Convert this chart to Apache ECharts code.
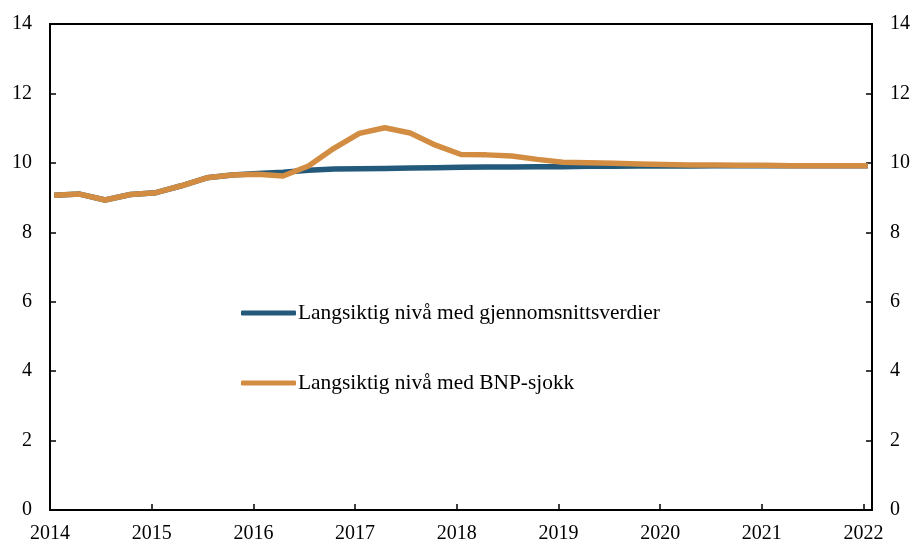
<!DOCTYPE html>
<html>
<head>
<meta charset="utf-8">
<script src="https://cdn.jsdelivr.net/npm/echarts@6/dist/echarts.min.js"></script>
<style>html,body{margin:0;padding:0;background:#fff;}#c{width:913px;height:545px;}</style>
</head>
<body>
<div id="c"></div>
<script>
// Quarterly observations 2014K1 - 2022K1
var quarters = ["2014K1","2014K2","2014K3","2014K4","2015K1","2015K2","2015K3","2015K4",
  "2016K1","2016K2","2016K3","2016K4","2017K1","2017K2","2017K3","2017K4",
  "2018K1","2018K2","2018K3","2018K4","2019K1","2019K2","2019K3","2019K4",
  "2020K1","2020K2","2020K3","2020K4","2021K1","2021K2","2021K3","2021K4","2022K1"];
var gjennomsnitt = [9.07,9.10,8.93,9.09,9.14,9.34,9.57,9.65,
  9.69,9.73,9.79,9.82,9.83,9.84,9.85,9.86,
  9.87,9.88,9.88,9.89,9.89,9.90,9.90,9.91,
  9.91,9.91,9.92,9.92,9.92,9.92,9.92,9.92,9.92];
var bnpSjokk = [9.07,9.10,8.93,9.09,9.14,9.34,9.57,9.65,
  9.67,9.62,9.91,10.42,10.85,11.01,10.86,10.51,
  10.24,10.23,10.20,10.10,10.02,10.00,9.99,9.97,
  9.95,9.94,9.94,9.93,9.93,9.92,9.92,9.92,9.92];
var seriesNames = ["Langsiktig nivå med gjennomsnittsverdier","Langsiktig nivå med BNP-sjokk"];
var yTicks = [0,2,4,6,8,10,12,14];
var xStart = "2014-01", xEnd = "2022-02";

// convert quarter label to decimal year (middle of the quarter's first month)
function qToYear(q){
  var y = parseInt(q.slice(0,4),10), k = parseInt(q.slice(5),10);
  var m = (k-1)*3 + 1;
  return y + (m-0.5)/12;
}
function ymToYear(s){ var p=s.split('-'); return parseInt(p[0],10) + (parseInt(p[1],10)-1)/12; }

var font = "'Liberation Serif', 'DejaVu Serif', serif";
var chart = echarts.init(document.getElementById('c'), null, {renderer:'canvas'});
function pairs(vals){ return quarters.map(function(q,i){ return [qToYear(q), vals[i]]; }); }

var yAxisCommon = {
  type:'value', min: yTicks[0], max: yTicks[yTicks.length-1], interval: 2,
  axisLine:{show:true, lineStyle:{color:'#000', width:2}},
  axisTick:{show:true, inside:true, length:6, lineStyle:{color:'#000', width:1.5}},
  axisLabel:{color:'#000', fontFamily:font, fontSize:20, margin:18},
  splitLine:{show:false}
};

chart.setOption({
  animation:false,
  backgroundColor:'#fff',
  grid:{left:50, right:41, top:24, bottom:35, show:true, borderColor:'#000', borderWidth:2, containLabel:false},
  legend:{
    orient:'vertical', left:241, top:302.5, padding:0,
    itemWidth:55, itemHeight:5, itemGap:49, icon:'roundRect',
    textStyle:{color:'#000', fontFamily:font, fontSize:21.4, lineHeight:21, padding:[0,0,0,-3]},
    data: seriesNames
  },
  xAxis:{
    type:'value', min: ymToYear(xStart), max: ymToYear(xEnd), interval:1,
    axisLine:{show:true, lineStyle:{color:'#000', width:2}},
    axisTick:{show:true, inside:true, length:6, lineStyle:{color:'#000', width:1.5}},
    axisLabel:{color:'#000', fontFamily:font, fontSize:20, margin:14,
      formatter:function(v){ return Math.abs(v-Math.round(v))<1e-6 ? String(Math.round(v)) : ''; }},
    splitLine:{show:false}
  },
  yAxis:[
    Object.assign({}, yAxisCommon, {position:'left'}),
    Object.assign({}, yAxisCommon, {position:'right'})
  ],
  series:[
    {name:seriesNames[0], type:'line', data:pairs(gjennomsnitt), showSymbol:false, symbol:'none',
      lineStyle:{color:'#235a7b', width:5.5, join:'round'}, itemStyle:{color:'#235a7b'}},
    {name:seriesNames[1], type:'line', data:pairs(bnpSjokk), showSymbol:false, symbol:'none',
      lineStyle:{color:'#d38d42', width:5.5, join:'round'}, itemStyle:{color:'#d38d42'}}
  ]
});
</script>
</body>
</html>
